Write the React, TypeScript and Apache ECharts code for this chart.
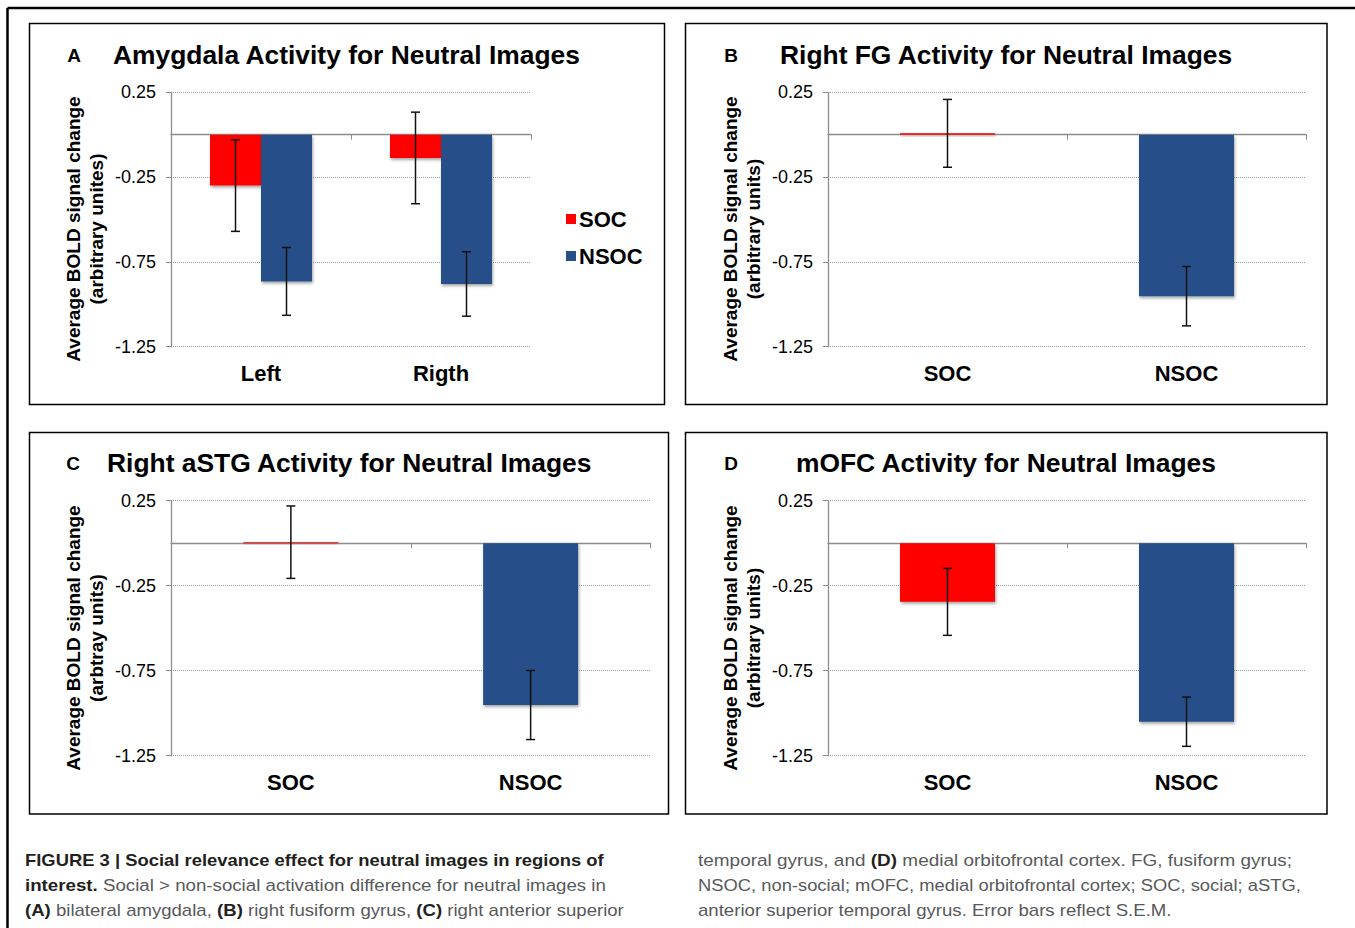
import React, { useEffect, useRef } from 'react';
import * as echarts from 'echarts';

// ---------- data ----------
const groupsA = ['Left', 'Rigth'];
const socA = [-0.3, -0.137];
const socErrA = [0.27, 0.27];
const nsocA = [-0.865, -0.88];
const nsocErrA = [0.2, 0.19];

const catsBCD = ['SOC', 'NSOC'];
const valuesB = [0.008, -0.952];
const errB = [0.2, 0.175];
const valuesC = [0.006, -0.952];
const errC = [0.213, 0.203];
const valuesD = [-0.345, -1.05];
const errD = [0.197, 0.145];

const yTicks = [0.25, -0.25, -0.75, -1.25];

const panelLetters = ['A', 'B', 'C', 'D'];
const panelTitles = [
  'Amygdala Activity for Neutral Images',
  'Right FG Activity for Neutral Images',
  'Right aSTG Activity for Neutral Images',
  'mOFC Activity for Neutral Images',
];
const yNameLine1 = 'Average BOLD signal change';
const yNameLine2 = ['(arbitrary unites)', '(arbitrary units)', '(arbtray units)', '(arbitrary units)'];

const captionLeft: [number, string][][] = [
  [[1, 'FIGURE 3 | Social relevance effect for neutral images in regions of']],
  [[1, 'interest.'], [0, ' Social > non-social activation difference for neutral images in']],
  [[1, '(A)'], [0, ' bilateral amygdala, '], [1, '(B)'], [0, ' right fusiform gyrus, '], [1, '(C)'], [0, ' right anterior superior']],
];
const captionRight: [number, string][][] = [
  [[0, 'temporal gyrus, and '], [1, '(D)'], [0, ' medial orbitofrontal cortex. FG, fusiform gyrus;']],
  [[0, 'NSOC, non-social; mOFC, medial orbitofrontal cortex; SOC, social; aSTG,']],
  [[0, 'anterior superior temporal gyrus. Error bars reflect S.E.M.']],
];

// ---------- layout ----------
const FONT = '"Liberation Sans", Arial, Helvetica, sans-serif';
const SOC_COLOR = '#ff0000';
const NSOC_COLOR = '#27508a';

const panels = [
  { box: [29.5, 23.5, 635, 381], grid: { left: 171, top: 92.3, width: 360, height: 254.4 }, letterX: 74, titleX: 113, titleY: 55, nameX: 84.5, nameY: 229 },
  { box: [685.5, 23.5, 641.5, 381], grid: { left: 828, top: 92.3, width: 478, height: 254.4 }, letterX: 731, titleX: 780, titleY: 55, nameX: 742, nameY: 229 },
  { box: [29.5, 432.5, 639, 381.5], grid: { left: 171, top: 500.7, width: 479.5, height: 255 }, letterX: 73, titleX: 107, titleY: 463, nameX: 84.5, nameY: 638 },
  { box: [685.5, 432.5, 641.5, 381.5], grid: { left: 828, top: 500.7, width: 478, height: 255 }, letterX: 731, titleX: 796, titleY: 463, nameX: 742, nameY: 638 },
];

const captionLeftX = 25;
const captionRightX = 698;
const captionY = [860, 885, 910];
const captionLeftW = [579, 581, 599];
const captionRightW = [594, 603, 474];

function barStyle(color: string) {
  return {
    color,
    shadowBlur: 3,
    shadowColor: 'rgba(0,0,0,0.35)',
    shadowOffsetX: 1,
    shadowOffsetY: 2,
  };
}

function errSeries(idx: number, vals: number[], errs: number[], offset: number) {
  return {
    type: 'custom',
    xAxisIndex: idx,
    yAxisIndex: idx,
    z: 10,
    silent: true,
    encode: { x: 0, y: 1 },
    data: vals.map((v, i) => [i, v, errs[i]]),
    renderItem: (params: any, api: any) => {
      const x = api.value(0);
      const v = api.value(1);
      const e = api.value(2);
      const top = api.coord([x, v + e]);
      const bot = api.coord([x, v - e]);
      const cx = top[0] + offset;
      const cap = 4.5;
      const st = { stroke: '#111', lineWidth: 1.5 };
      return {
        type: 'group',
        children: [
          { type: 'line', shape: { x1: cx, y1: top[1], x2: cx, y2: bot[1] }, style: st },
          { type: 'line', shape: { x1: cx - cap, y1: top[1], x2: cx + cap, y2: top[1] }, style: st },
          { type: 'line', shape: { x1: cx - cap, y1: bot[1], x2: cx + cap, y2: bot[1] }, style: st },
        ],
      };
    },
  };
}

function buildCaption(lines: [number, string][][], x0: number, widths: number[]) {
  const canvas = document.createElement('canvas');
  const ctx = canvas.getContext('2d')!;
  const size = 17;
  const out: any[] = [];
  lines.forEach((segs, li) => {
    let w = 0;
    segs.forEach(([b, t]) => {
      ctx.font = `${b ? 'bold ' : ''}${size}px ${FONT}`;
      w += ctx.measureText(t).width;
    });
    const s = w > 0 ? widths[li] / w : 1;
    const text = segs.map(([b, t]) => `{${b ? 'b' : 'r'}|${t}}`).join('');
    out.push({
      type: 'text',
      x: x0,
      y: captionY[li],
      scaleX: s,
      style: {
        text,
        x: 0,
        y: 0,
        verticalAlign: 'middle',
        align: 'left',
        rich: {
          b: { fontFamily: FONT, fontSize: size, fontWeight: 'bold', fill: '#231f20' },
          r: { fontFamily: FONT, fontSize: size, fontWeight: 'normal', fill: '#58595b' },
        },
      },
    });
  });
  return out;
}

export default function App() {
  const ref = useRef<HTMLDivElement>(null);
  useEffect(() => {
    if (!ref.current) return;
    const chart = echarts.init(ref.current, undefined, { renderer: 'svg' });

    const grids = panels.map((p) => ({ ...p.grid, containLabel: false, outerBoundsMode: 'none' }));
    const xCats = [groupsA, catsBCD, catsBCD, catsBCD];
    const xAxes = panels.map((p, i) => ({
      type: 'category',
      gridIndex: i,
      data: xCats[i],
      axisLine: { onZero: true, lineStyle: { color: '#8c8c8c', width: 1.3 } },
      axisTick: { show: true, length: 5, lineStyle: { color: '#8c8c8c' } },
      axisLabel: { margin: 16, fontSize: 22, fontWeight: 'bold', color: '#000', fontFamily: FONT },
      splitLine: { show: false },
    }));
    const yAxes = panels.map((p, i) => ({
      type: 'value',
      gridIndex: i,
      min: yTicks[yTicks.length - 1],
      max: yTicks[0],
      interval: 0.5,
      axisLine: { show: true, lineStyle: { color: '#8c8c8c', width: 1.3 } },
      axisTick: { show: true, length: 5, lineStyle: { color: '#8c8c8c' } },
      axisLabel: { margin: 15, fontSize: 18, color: '#000', fontFamily: FONT, formatter: (v: number) => String(v) },
      splitLine: { show: true, lineStyle: { type: 'dotted', color: '#9a9a9a', width: 1 } },
    }));

    const bcd = [valuesB, valuesC, valuesD];
    const bcdErr = [errB, errC, errD];

    const series: any[] = [
      { type: 'bar', name: 'SOC', xAxisIndex: 0, yAxisIndex: 0, data: socA, barWidth: 51, barGap: '0%', itemStyle: barStyle(SOC_COLOR) },
      { type: 'bar', name: 'NSOC', xAxisIndex: 0, yAxisIndex: 0, data: nsocA, barWidth: 51, barGap: '0%', itemStyle: barStyle(NSOC_COLOR) },
      errSeries(0, socA, socErrA, -25.5),
      errSeries(0, nsocA, nsocErrA, 25.5),
    ];
    bcd.forEach((vals, k) => {
      const idx = k + 1;
      series.push({
        type: 'bar',
        name: 'panel' + panelLetters[idx],
        xAxisIndex: idx,
        yAxisIndex: idx,
        barWidth: 95,
        data: vals.map((v, i) => ({ value: v, itemStyle: barStyle(i === 0 ? SOC_COLOR : NSOC_COLOR) })),
      });
      series.push(errSeries(idx, vals, bcdErr[k], 0));
    });

    const graphics: any[] = [
      { type: 'line', shape: { x1: 7.5, y1: 8, x2: 1355, y2: 8 }, style: { stroke: '#000', lineWidth: 2.5 } },
      { type: 'line', shape: { x1: 7.5, y1: 8, x2: 7.5, y2: 928 }, style: { stroke: '#000', lineWidth: 2.5 } },
    ];
    panels.forEach((p, i) => {
      graphics.push({
        type: 'rect',
        shape: { x: p.box[0], y: p.box[1], width: p.box[2], height: p.box[3] },
        style: { fill: 'none', stroke: '#000', lineWidth: 1.5 },
      });
      graphics.push({
        type: 'text',
        x: p.letterX,
        y: p.titleY,
        style: { text: panelLetters[i], fontFamily: FONT, fontSize: 19, fontWeight: 'bold', fill: '#000', align: 'center', verticalAlign: 'middle' },
      });
      graphics.push({
        type: 'text',
        x: p.titleX,
        y: p.titleY,
        style: { text: panelTitles[i], fontFamily: FONT, fontSize: 26.4, fontWeight: 'bold', fill: '#000', align: 'left', verticalAlign: 'middle' },
      });
      graphics.push({
        type: 'text',
        x: p.nameX,
        y: p.nameY,
        rotation: Math.PI / 2,
        style: {
          text: yNameLine1 + '\n' + yNameLine2[i],
          fontFamily: FONT,
          fontSize: 19,
          fontWeight: 'bold',
          lineHeight: 23,
          fill: '#000',
          align: 'center',
          verticalAlign: 'middle',
        },
      });
    });
    graphics.push(...buildCaption(captionLeft, captionLeftX, captionLeftW));
    graphics.push(...buildCaption(captionRight, captionRightX, captionRightW));

    chart.setOption({
      animation: false,
      backgroundColor: '#fff',
      textStyle: { fontFamily: FONT },
      grid: grids,
      xAxis: xAxes,
      yAxis: yAxes,
      legend: {
        data: ['SOC', 'NSOC'],
        orient: 'vertical',
        left: 561,
        top: 203,
        itemWidth: 10,
        itemHeight: 10,
        itemGap: 15,
        icon: 'rect',
        textStyle: { fontSize: 22, fontWeight: 'bold', color: '#000', fontFamily: FONT, padding: [0, 0, 0, -2] },
        selectedMode: false,
      },
      series,
      graphic: { elements: graphics },
    });
    return () => chart.dispose();
  }, []);
  return <div ref={ref} style={{ position: 'absolute', left: 0, top: 0, width: 1355, height: 928 }} />;
}
